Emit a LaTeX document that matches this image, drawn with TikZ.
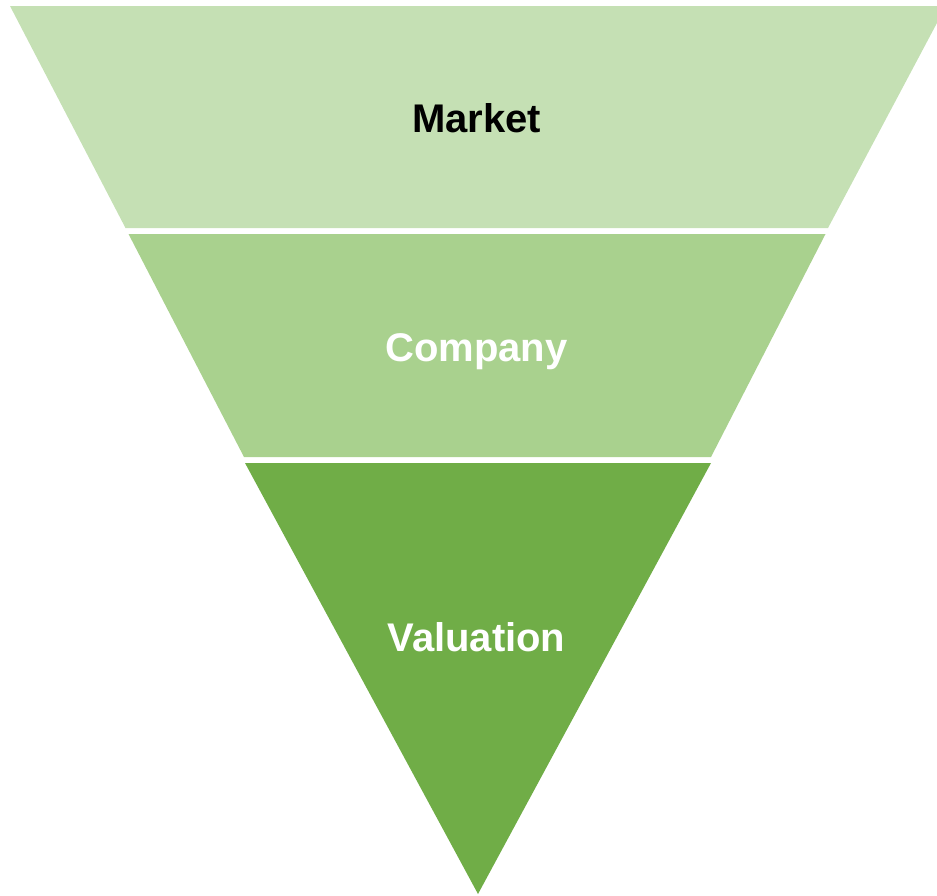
\documentclass[tikz,border=0pt]{standalone}
\usepackage{fontspec}
\setmainfont{Liberation Sans}
\definecolor{gA}{HTML}{C5E0B4}
\definecolor{gB}{HTML}{A9D18E}
\definecolor{gC}{HTML}{70AD47}
\begin{document}
\begin{tikzpicture}[x=1pt,y=-1pt,
  lbl/.style={font=\fontsize{40}{42}\selectfont\bfseries, anchor=base, inner sep=0pt}]
\useasboundingbox (0,0) rectangle (937,895);
\clip (0,0) rectangle (937,895);
\fill[gA] (10,6) -- (946,6) -- (828,228) -- (125.5,228) -- cycle;
\fill[gB] (128.5,234) -- (825.5,234) -- (711,457) -- (244,457) -- cycle;
\fill[gC] (245,463) -- (711,463) -- (478,894) -- cycle;
\node[lbl, text=black] (market) at (476.5,132) {Market};
\node[lbl, text=white] (company) at (476.5,361) {Company};
\node[lbl, text=white] (valuation) at (476.5,651) {Valuation};
\end{tikzpicture}
\end{document}
